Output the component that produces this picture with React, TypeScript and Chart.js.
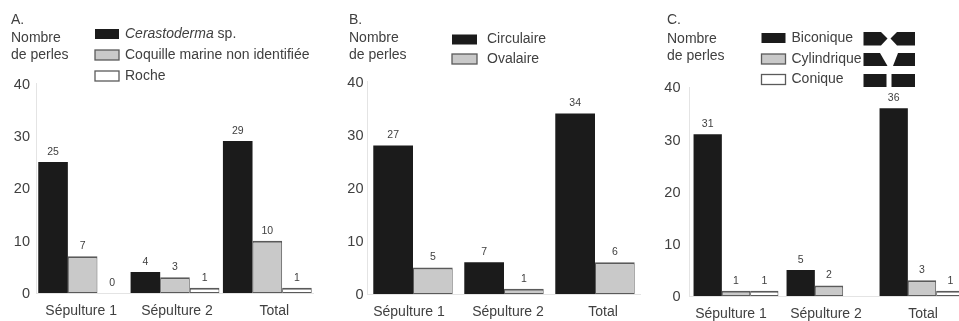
import { useEffect, useRef } from "react";
import { Chart, registerables } from "chart.js";

Chart.register(...registerables);

const categories = ["Sépulture 1", "Sépulture 2", "Total"];
const yTicks = [0, 10, 20, 30, 40];

// Panel A
const cerastoderma = [25, 4, 29];
const coquille = [7, 3, 10];
const roche = [0, 1, 1];
// Panel B: bar heights differ from the printed figures in the source
const circulaire = [28, 6, 34];
const ovalaire = [5, 1, 6];
const circulaireLabels = ["27", "7", "34"];
const ovalaireLabels = ["5", "1", "6"];
// Panel C
const biconique = [31, 5, 36];
const cylindrique = [1, 2, 3];
const conique = [1, null, 1];

const FONT = '"Liberation Sans", Arial, sans-serif';
const INK = "#404040";
const BLACK = "#1b1b1b";
const GREY = "#c9c9c9";
const WHITE = "#ffffff";
const EDGE = "#5a5a5a";
const AXIS = "#e4e4e4";
const W = 980;
const H = 321;

type Legend = { x: number; w: number; h: number; tx: number; rows: number[]; fontSize: number };
type Panel = {
  letter: string;
  hx: number;
  hy: number[];
  area: { l: number; r: number; t: number; b: number };
  share: number;
  shift: number[];
  yPad: number;
  legend: Legend;
  series: { label: string; data: (number | null)[]; fill: string; texts?: string[] }[];
  shapes?: boolean;
};

const panels: Panel[] = [
  {
    letter: "A.",
    hx: 11,
    hy: [20, 38, 55],
    area: { l: 36.5, r: 313.5, t: 83.5, b: 293 },
    share: 0.962,
    shift: [-1.5, 2, 7],
    yPad: 6.5,
    legend: { x: 95, w: 24, h: 10, tx: 125, rows: [34, 55, 76], fontSize: 14 },
    series: [
      { label: "Cerastoderma sp.", data: cerastoderma, fill: BLACK },
      { label: "Coquille marine non identifiée", data: coquille, fill: GREY },
      { label: "Roche", data: roche, fill: WHITE },
    ],
  },
  {
    letter: "B.",
    hx: 349,
    hy: [20, 38, 55],
    area: { l: 367.5, r: 640.5, t: 81.7, b: 294 },
    share: 0.873,
    shift: [-4, 4, 8],
    yPad: 4,
    legend: { x: 452, w: 25, h: 10, tx: 487, rows: [39.5, 59], fontSize: 14 },
    series: [
      { label: "Circulaire", data: circulaire, fill: BLACK, texts: circulaireLabels },
      { label: "Ovalaire", data: ovalaire, fill: GREY, texts: ovalaireLabels },
    ],
  },
  {
    letter: "C.",
    hx: 667,
    hy: [20, 39, 56],
    area: { l: 689.5, r: 968.5, t: 87.4, b: 296 },
    share: 0.913,
    shift: [-5, -3, 1],
    yPad: 9,
    legend: { x: 761.5, w: 24, h: 10, tx: 791.5, rows: [38, 59, 79.5], fontSize: 14 },
    shapes: true,
    series: [
      { label: "Biconique", data: biconique, fill: BLACK },
      { label: "Cylindrique", data: cylindrique, fill: GREY },
      { label: "Conique", data: conique, fill: WHITE },
    ],
  },
];

const poly = (ctx: CanvasRenderingContext2D, pts: number[][]) => {
  ctx.beginPath();
  pts.forEach(([x, y], i) => (i ? ctx.lineTo(x, y) : ctx.moveTo(x, y)));
  ctx.closePath();
  ctx.fill();
};

const panelPlugin = (p: Panel) => ({
  id: "panel" + p.letter[0],
  afterLayout(chart: any) {
    // nudge the axis labels, which sit off-centre in the source
    chart.scales.x.getLabelItems(chart.chartArea).forEach((item: any, i: number) => {
      item.options.translation[0] += p.shift[i];
    });
    chart.scales.y.getLabelItems(chart.chartArea).forEach((item: any) => {
      item.options.translation[1] += 1;
    });
  },
  afterDatasetsDraw(chart: any) {
    const ctx: CanvasRenderingContext2D = chart.ctx;
    ctx.save();
    ctx.fillStyle = INK;
    ctx.textBaseline = "middle";
    ctx.textAlign = "center";
    ctx.font = `10.5px ${FONT}`;
    chart.data.datasets.forEach((ds: any, d: number) => {
      chart.getDatasetMeta(d).data.forEach((el: any, i: number) => {
        const v = ds.data[i];
        if (v === null) return;
        const text = p.series[d].texts ? p.series[d].texts![i] : String(v);
        ctx.fillText(text, el.x, el.y - 10);
      });
    });

    // header
    ctx.textAlign = "left";
    ctx.font = `14px ${FONT}`;
    [p.letter, "Nombre", "de perles"].forEach((t, i) => ctx.fillText(t, p.hx, p.hy[i]));

    // legend
    const lg = p.legend;
    p.series.forEach((s, i) => {
      const cy = lg.rows[i];
      ctx.fillStyle = s.fill;
      ctx.fillRect(lg.x, cy - lg.h / 2, lg.w, lg.h);
      if (s.fill !== BLACK) {
        ctx.strokeStyle = EDGE;
        ctx.lineWidth = 1.3;
        ctx.strokeRect(lg.x, cy - lg.h / 2, lg.w, lg.h);
      }
      ctx.fillStyle = INK;
      ctx.font = `${lg.fontSize}px ${FONT}`;
      if (s.label.startsWith("Cerastoderma")) {
        const [a, b] = ["Cerastoderma", " sp."];
        ctx.font = `italic ${lg.fontSize}px ${FONT}`;
        ctx.fillText(a, lg.tx, cy);
        const w = ctx.measureText(a).width;
        ctx.font = `${lg.fontSize}px ${FONT}`;
        ctx.fillText(b, lg.tx + w, cy);
      } else {
        ctx.fillText(s.label, lg.tx, cy);
      }
    });

    // bead profiles beside legend C
    if (p.shapes) {
      ctx.fillStyle = BLACK;
      poly(ctx, [[863.5, 32], [881, 32], [887.5, 38.5], [881, 45.5], [863.5, 45.5]]);
      poly(ctx, [[915, 32], [897, 32], [890.5, 38.5], [897, 45.5], [915, 45.5]]);
      poly(ctx, [[863.5, 53], [880, 53], [887.5, 66], [863.5, 66]]);
      poly(ctx, [[915, 53], [898, 53], [893, 66], [915, 66]]);
      poly(ctx, [[863.5, 74], [886.5, 74], [886.5, 87], [863.5, 87]]);
      poly(ctx, [[891.5, 74], [915, 74], [915, 87], [891.5, 87]]);
    }
    ctx.restore();
  },
});

function PanelChart({ panel }: { panel: Panel }) {
  const ref = useRef<HTMLCanvasElement>(null);
  useEffect(() => {
    const { area } = panel;
    const yWidth = 34;
    const xHeight = 27;
    const chart = new Chart(ref.current!, {
      type: "bar",
      data: {
        labels: categories,
        datasets: panel.series.map((s) => ({
          label: s.label,
          data: s.data,
          backgroundColor: s.fill,
          borderColor: s.fill === BLACK ? BLACK : EDGE,
          borderWidth: s.fill === BLACK ? 0 : { top: 2, left: 1, right: 1, bottom: 1 },
          borderSkipped: false,
          categoryPercentage: panel.share,
          barPercentage: 1,
        })),
      } as any,
      options: {
        responsive: false,
        animation: false,
        layout: {
          padding: {
            left: area.l - yWidth,
            right: W - area.r,
            top: area.t,
            bottom: H - area.b - xHeight,
          },
        },
        plugins: { legend: { display: false }, title: { display: false }, tooltip: { enabled: false } },
        scales: {
          x: {
            grid: { display: false, drawTicks: false },
            border: { color: AXIS },
            afterFit: (s: any) => {
              s.height = xHeight;
            },
            ticks: {
              color: INK,
              padding: 10,
              maxRotation: 0,
              autoSkip: false,
              font: { family: FONT, size: 14 },
            },
          },
          y: {
            min: 0,
            max: 40,
            grid: { display: false, drawTicks: false },
            border: { color: AXIS },
            afterFit: (s: any) => {
              s.width = yWidth;
            },
            afterBuildTicks: (s: any) => {
              s.ticks = yTicks.map((value) => ({ value }));
            },
            ticks: {
              color: INK,
              padding: panel.yPad,
              font: { family: FONT, size: 14.5 },
            },
          },
        },
      } as any,
      plugins: [panelPlugin(panel)],
    });
    return () => chart.destroy();
  }, [panel]);
  return <canvas ref={ref} width={W} height={H} style={{ position: "absolute", left: 0, top: 0, width: W, height: H }} />;
}

export default function App() {
  return (
    <div style={{ position: "fixed", left: 0, top: 0, width: 959, height: 321, overflow: "hidden", background: "#fff" }}>
      {panels.map((p) => (
        <PanelChart key={p.letter} panel={p} />
      ))}
    </div>
  );
}
